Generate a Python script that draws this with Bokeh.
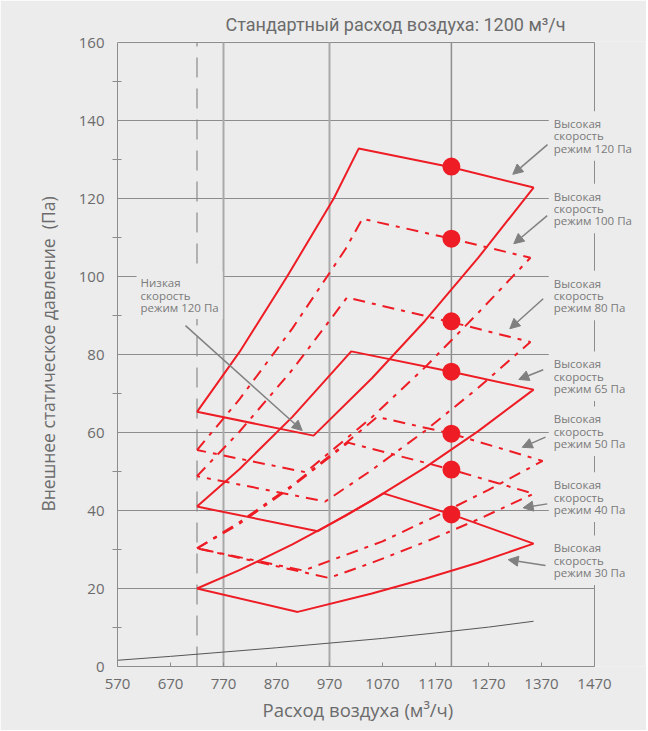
from bokeh.plotting import figure
from bokeh.models import Range1d, FixedTicker, Label, Arrow, NormalHead, Title
from bokeh.embed import file_html
from bokeh.resources import INLINE

# ---------------- data ----------------
x_ticks = [570, 670, 770, 870, 970, 1070, 1170, 1270, 1370, 1470]
y_ticks = [0, 20, 40, 60, 80, 100, 120, 140, 160]
y_minor = [10, 30, 50, 70, 90, 110, 130, 150]
y_grid = [20, 40, 60, 80, 100, 120, 140, 160]

grid_x_solid = [770, 970]          # vertical grid lines
std_flow = [1200]                  # standard air flow line
min_flow = [720]                   # dashed limit line
x_border = [1470]                  # right border of the chart

# high-speed modes: polygon outlines (system curve up, fan curve, system curve down, low-speed curve)
x120 = [720, 800, 890, 978, 1025, 1200, 1355, 1250, 1150, 1050, 940, 720]
y120 = [65.3, 80.6, 100, 120, 132.8, 128.0, 122.8, 104.7, 88.6, 73.9, 59.2, 65.3]

x100 = [720, 800, 900, 1000, 1032, 1200, 1349, 1250, 1150, 1050, 925, 720]
y100 = [55.5, 68.5, 86.7, 107.0, 114.8, 109.7, 104.8, 90.6, 76.7, 63.9, 49.8, 55.5]

x80 = [720, 800, 900, 1003, 1200, 1349, 1250, 1150, 1050, 962, 720]
y80 = [48.8, 60.2, 76.1, 94.6, 88.3, 83.2, 71.4, 60.4, 50.4, 42.3, 48.8]

x65 = [720, 800, 900, 1011, 1200, 1355, 1250, 1150, 1050, 948, 720]
y65 = [41.0, 50.6, 64.0, 80.8, 75.6, 71.0, 60.3, 51.0, 42.6, 34.7, 41.0]

x50 = [720, 800, 900, 1000, 1060, 1200, 1372, 1270, 1170, 1070, 921, 720]
y50 = [30.3, 37.0, 46.5, 57.2, 64.0, 59.7, 52.7, 45.3, 38.5, 32.1, 24.6, 30.3]

x40 = [720, 800, 900, 1005, 1200, 1355, 1250, 1150, 1050, 969, 720]
y40 = [30.3, 36.6, 46.2, 57.4, 50.5, 44.3, 37.7, 31.9, 26.6, 22.7, 30.3]

x30 = [720, 800, 900, 1000, 1072, 1200, 1355, 1250, 1150, 1050, 910, 720]
y30 = [20.0, 24.7, 31.3, 38.6, 44.4, 39.0, 31.5, 26.6, 22.5, 18.7, 14.0, 20.0]

# operating points at the standard flow
dot_x = [1200, 1200, 1200, 1200, 1200, 1200, 1200]
dot_y = [128.2, 109.7, 88.5, 75.6, 59.7, 50.5, 39.0]

# thin bottom curve
xb = [570, 670, 770, 870, 970, 1070, 1170, 1270, 1355]
yb = [1.6, 2.6, 3.7, 4.8, 6.0, 7.2, 8.6, 10.1, 11.6]

mode_labels = ["Высокая\nскорость\nрежим 120 Па", "Высокая\nскорость\nрежим 100 Па",
               "Высокая\nскорость\nрежим 80 Па", "Высокая\nскорость\nрежим 65 Па",
               "Высокая\nскорость\nрежим 50 Па", "Высокая\nскорость\nрежим 40 Па",
               "Высокая\nскорость\nрежим 30 Па"]
low_label = "Низкая\nскорость\nрежим 120 Па"

# ---------------- styling ----------------
BG = "#ececec"
RED = "#ee1d25"
GRAY_TXT = "#6b6b6b"
LBL_TXT = "#7a7a7a"
GRID = "#8c8c8c"
FONT = "Open Sans"

p = figure(width=646, height=730, x_range=Range1d(570, 1566.2), y_range=Range1d(0, 160.26),
           output_backend="svg", toolbar_location=None,
           min_border_left=117, min_border_right=1, min_border_top=41, min_border_bottom=64,
           background_fill_color=BG, border_fill_color=BG)

p.title.text = "Стандартный расход воздуха: 1200 м³/ч"
p.title.align = "left"
p.title.offset = 108
p.title.text_font = "'Liberation Sans Narrow', Roboto"
p.title.text_font_size = "18px"
p.title.text_font_style = "normal"
p.title.text_color = GRAY_TXT
p.title.standoff = 14

p.outline_line_color = None

# axes
p.xaxis.ticker = FixedTicker(ticks=x_ticks)
p.yaxis.ticker = FixedTicker(ticks=y_ticks, minor_ticks=y_minor)
p.xaxis.bounds = (570, 1470)
p.yaxis.bounds = (0, 160)
for ax in (p.xaxis[0], p.yaxis[0]):
    ax.axis_line_color = GRID
    ax.major_tick_line_color = GRID
    ax.minor_tick_line_color = GRID
    ax.major_label_text_font = FONT
    ax.major_label_text_font_size = "15px"
    ax.major_label_text_color = GRAY_TXT
    ax.axis_label_text_font = FONT
    ax.axis_label_text_font_size = "17.5px"
    ax.axis_label_text_font_style = "normal"
    ax.axis_label_text_color = GRAY_TXT

p.xaxis.major_tick_in = 4
p.xaxis.major_tick_out = 0
p.xaxis.minor_tick_line_color = None
p.xaxis.major_label_standoff = 12

p.yaxis.major_tick_in = 0
p.yaxis.major_tick_out = 0
p.yaxis.minor_tick_in = 4
p.yaxis.minor_tick_out = 5
p.yaxis.major_label_standoff = 8
p.yaxis.axis_label = "Внешнее статическое давление\u00a0\u00a0(Па)"
p.yaxis.axis_label_standoff = 16

# x-axis title (placed as a left-aligned title below the axis)
p.add_layout(Title(text="Расход воздуха (м³/ч)", align="left", offset=145,
                   text_font=FONT, text_font_size="18.5px", text_font_style="normal",
                   text_color=GRAY_TXT, standoff=6), "below")

p.xgrid.visible = False
p.ygrid.visible = False

# horizontal grid lines and right border
p.segment(x0=[570] * len(y_grid), x1=[1470] * len(y_grid), y0=y_grid, y1=y_grid,
          line_color=GRID, line_width=1)
p.segment(x0=x_border, x1=x_border, y0=[0], y1=[160], line_color=GRID, line_width=1)

# vertical reference lines
p.segment(x0=grid_x_solid, x1=grid_x_solid, y0=[0, 0], y1=[160, 160],
          line_color="#a9a9a9", line_width=2)
p.segment(x0=std_flow, x1=std_flow, y0=[0], y1=[160], line_color="#8f8f8f", line_width=1.5)
p.segment(x0=min_flow, x1=min_flow, y0=[0], y1=[160], line_color="#8a8a8a",
          line_width=1.2, line_dash="20 11")

# bottom curve
p.line(xb, yb, line_color="#555555", line_width=1)

# mode polygons
DASH = "12 7 4 7"
p.line(x120, y120, line_color=RED, line_width=2)
p.line(x65, y65, line_color=RED, line_width=2)
p.line(x30, y30, line_color=RED, line_width=2)
p.line(x100, y100, line_color=RED, line_width=2, line_dash=DASH)
p.line(x80, y80, line_color=RED, line_width=2, line_dash=DASH)
p.line(x50, y50, line_color=RED, line_width=2, line_dash=DASH)
p.line(x40, y40, line_color=RED, line_width=2, line_dash=DASH)

# operating points
p.scatter(dot_x, dot_y, size=18, fill_color=RED, line_color=RED, line_width=0)

# right-hand labels
label_x = 1383.7
label_tops = [142.4, 123.8, 101.5, 80.8, 66.7, 49.8, 33.6]
for txt, yt in zip(mode_labels, label_tops):
    p.add_layout(Label(x=label_x, y=yt, text=txt, text_align="left", text_baseline="top",
                       text_font=FONT, text_font_size="11.5px", text_color=LBL_TXT,
                       text_line_height=0.82, background_fill_color=BG, padding=5))
p.add_layout(Label(x=605.9, y=101.3, text=low_label, text_align="left", text_baseline="top",
                   text_font=FONT, text_font_size="11.5px", text_color=LBL_TXT,
                   text_line_height=0.82, background_fill_color=BG, padding=4))

# arrows
arrows = [
    (1381.3, 133.8, 1315.8, 126.2),
    (1380.8, 115.6, 1317.7, 108.4),
    (1373.2, 94.3, 1310.2, 86.6),
    (1373.2, 76.1, 1327.2, 73.6),
    (1377.5, 58.8, 1333.6, 56.2),
    (1380.8, 41.7, 1335.3, 40.7),
    (1377.5, 25.9, 1307.2, 27.4),
    (698.3, 87.4, 918.5, 60.5),
]
for xs, ys, xe, ye in arrows:
    p.add_layout(Arrow(end=NormalHead(size=10, fill_color="#808080", line_color="#808080"),
                       x_start=xs, y_start=ys, x_end=xe, y_end=ye,
                       line_color="#808080", line_width=1.5))

open("out.html", "w").write(file_html(p, INLINE))
